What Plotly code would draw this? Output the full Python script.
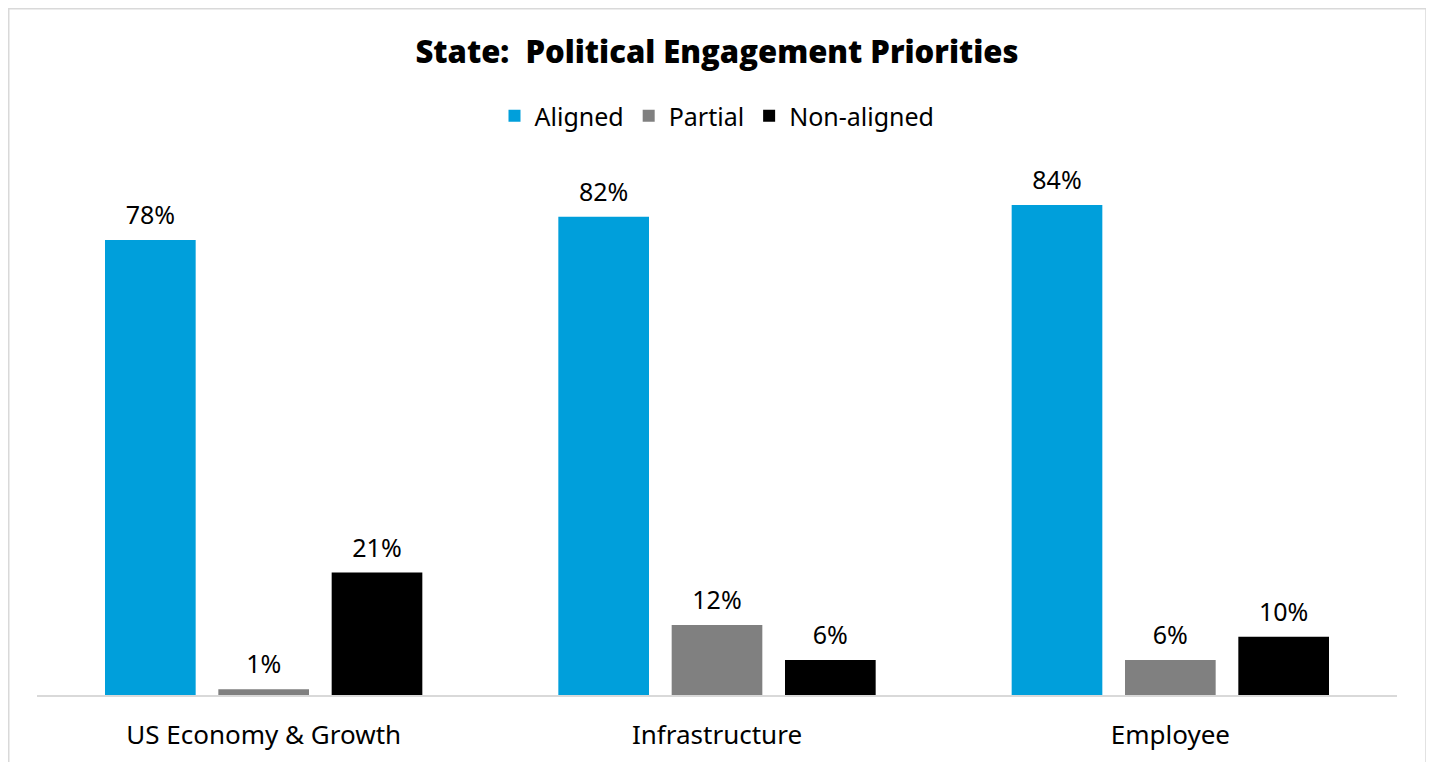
import plotly.graph_objects as go

categories = ["US Economy & Growth", "Infrastructure", "Employee"]
series_names = ["Aligned", "Partial", "Non-aligned"]
aligned = [78, 82, 84]
partial = [1, 12, 6]
non_aligned = [21, 6, 10]
colors = ["#009FDB", "#808080", "#000000"]

W, H = 1434, 762
L, R, T, B = 29, 45, 162, 75

fig = go.Figure()
all_vals = [aligned, partial, non_aligned]
for name, vals, col in zip(series_names, all_vals, colors):
    fig.add_trace(go.Bar(
        x=categories, y=vals, name=name,
        marker=dict(color=col, line=dict(width=0)),
    ))
for name, vals in zip(series_names, all_vals):
    fig.add_trace(go.Scatter(
        x=categories, y=vals, mode="text+markers", name=name + " labels",
        marker=dict(size=14, opacity=0),
        text=[f"{v}%" for v in vals], textposition="top center",
        textfont=dict(family="Noto Sans", size=25, color="#000000"),
        showlegend=False, hoverinfo="skip", cliponaxis=False,
    ))

pw = W - L - R
ph = H - T - B
fig.add_shape(type="rect", xref="paper", yref="paper",
              x0=(0.75 - L) / pw, x1=(1418 - L) / pw,
              y0=-(800 - (H - B)) / ph, y1=1 + (T - 0.75) / ph,
              line=dict(color="#d9d9d9", width=1.5), layer="below")

fig.update_layout(
    width=W, height=H,
    margin=dict(l=L, r=R, t=T, b=B),
    paper_bgcolor="white", plot_bgcolor="white",
    barmode="group", bargap=0.25, bargroupgap=0.2,
    scattermode="group", scattergap=0.25,
    title=dict(text="State:  Political Engagement Priorities", x=709 / W, xanchor="center",
               y=1 - 44 / H, yanchor="middle",
               font=dict(family="Open Sans", size=31, color="#000000", weight=800)),
    legend=dict(orientation="h", x=0.5, xanchor="center", y=1 + (T - 108) / ph, yanchor="middle",
                font=dict(family="Noto Sans", size=25, color="#000000"),
                itemwidth=30, traceorder="normal"),
    xaxis=dict(showline=True, linecolor="#d9d9d9", linewidth=1.5, ticks="",
               tickfont=dict(family="Noto Sans", size=26, color="#000000"),
               ticklabelstandoff=16,
               showgrid=False, zeroline=False),
    yaxis=dict(range=[0, 90], visible=False, showgrid=False, zeroline=False),
    showlegend=True,
)

fig.write_html("out.html")
